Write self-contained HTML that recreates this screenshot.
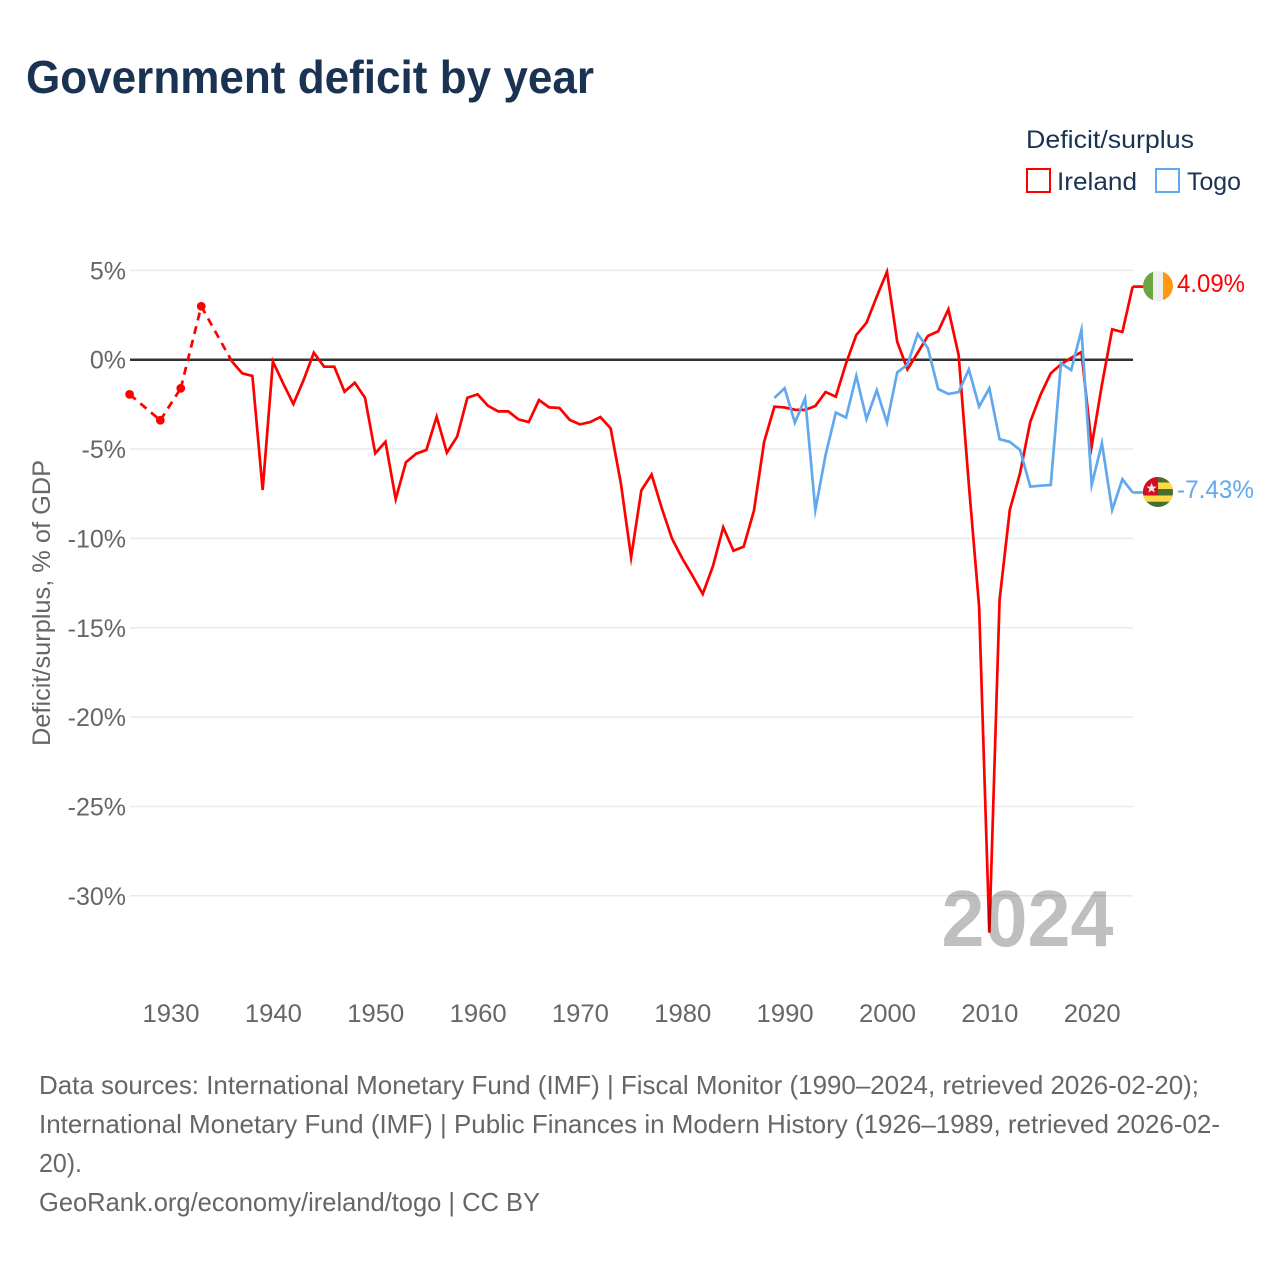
<!DOCTYPE html>
<html lang="en">
<head>
<meta charset="utf-8">
<title>Government deficit by year</title>
<style>
html,body{margin:0;padding:0;background:#fff;width:1280px;height:1280px;overflow:hidden}
svg{display:block}
text{font-family:"Liberation Sans",sans-serif}
</style>
</head>
<body>
<svg id="chart" xmlns="http://www.w3.org/2000/svg" width="1280" height="1280" viewBox="0 0 1280 1280">
  <rect width="1280" height="1280" fill="#fff"/>
  <text x="26" y="93" font-size="46" font-weight="700" fill="#1a3352" textLength="568" lengthAdjust="spacingAndGlyphs">Government deficit by year</text>

  <g>
    <text x="1026" y="148" font-size="25" fill="#1a3352" textLength="168" lengthAdjust="spacingAndGlyphs">Deficit/surplus</text>
    <rect x="1027" y="169" width="23" height="23" fill="none" stroke="#ff0000" stroke-width="2"/>
    <text x="1057" y="190" font-size="25" fill="#1a3352" textLength="80" lengthAdjust="spacingAndGlyphs">Ireland</text>
    <rect x="1156" y="169" width="23" height="23" fill="none" stroke="#62a8ed" stroke-width="2"/>
    <text x="1187" y="190" font-size="25" fill="#1a3352" textLength="54" lengthAdjust="spacingAndGlyphs">Togo</text>
  </g>

  <g id="grid"></g>
  <g id="yticks"></g>
  <g id="xticks"></g>
  <text transform="translate(50,603) rotate(-90)" text-anchor="middle" font-size="25" fill="#666" textLength="286" lengthAdjust="spacingAndGlyphs">Deficit/surplus, % of GDP</text>
  <g id="series"></g>

  <defs>
    <clipPath id="clip-ie"><circle id="clip-ie-c" cx="1158" cy="286" r="15"/></clipPath>
    <clipPath id="clip-tg"><circle id="clip-tg-c" cx="1158" cy="492" r="15"/></clipPath>
  </defs>
  <g id="flag-ie" clip-path="url(#clip-ie)">
    <rect x="1143" y="271" width="10.5" height="30" fill="#6da544"/>
    <rect x="1153" y="271" width="10" height="30" fill="#eeeeee"/>
    <rect x="1163" y="271" width="10" height="30" fill="#ff9811"/>
  </g>
  <g id="flag-tg" clip-path="url(#clip-tg)">
    <rect x="1143" y="477" width="30" height="30" fill="#496e2d"/>
    <rect x="1158" y="482.5" width="15" height="6.5" fill="#ffda44"/>
    <rect x="1143" y="495.5" width="30" height="6.2" fill="#ffda44"/>
    <rect x="1143" y="477" width="15" height="18.5" fill="#d20f24"/>
    <polygon points="1151.6,482.8 1152.9,486.5 1156.8,486.6 1153.7,488.9 1154.8,492.6 1151.6,490.4 1148.4,492.6 1149.5,488.9 1146.4,486.6 1150.3,486.5" fill="#eee"/>
  </g>
  <text id="label-ie" x="1177" y="292" font-size="25" fill="#ff0000" textLength="68" lengthAdjust="spacingAndGlyphs"></text>
  <text id="label-tg" x="1177" y="498" font-size="25" fill="#62a8ed" textLength="77" lengthAdjust="spacingAndGlyphs"></text>

  <text x="1113.5" y="946" text-anchor="end" font-size="80" font-weight="700" fill="#000" fill-opacity="0.25" textLength="172" lengthAdjust="spacingAndGlyphs">2024</text>

  <g font-size="26" fill="#666">
    <text x="39" y="1094" textLength="1160" lengthAdjust="spacingAndGlyphs">Data sources: International Monetary Fund (IMF) | Fiscal Monitor (1990–2024, retrieved 2026-02-20);</text>
    <text x="39" y="1133" textLength="1181" lengthAdjust="spacingAndGlyphs">International Monetary Fund (IMF) | Public Finances in Modern History (1926–1989, retrieved 2026-02-</text>
    <text x="39" y="1172" textLength="43" lengthAdjust="spacingAndGlyphs">20).</text>
    <text x="39" y="1211" textLength="501" lengthAdjust="spacingAndGlyphs">GeoRank.org/economy/ireland/togo | CC BY</text>
  </g>
</svg>
<script>
const yTickValues = [5, 0, -5, -10, -15, -20, -25, -30];
const yTickLabels = ["5%", "0%", "-5%", "-10%", "-15%", "-20%", "-25%", "-30%"];
const xTickYears = [1930, 1940, 1950, 1960, 1970, 1980, 1990, 2000, 2010, 2020];
const xTickLabels = ["1930", "1940", "1950", "1960", "1970", "1980", "1990", "2000", "2010", "2020"];

const irelandYears = [1926, 1929, 1931, 1933, 1936, 1937, 1938, 1939, 1940, 1941, 1942, 1943, 1944, 1945, 1946, 1947, 1948, 1949, 1950, 1951, 1952, 1953, 1954, 1955, 1956, 1957, 1958, 1959, 1960, 1961, 1962, 1963, 1964, 1965, 1966, 1967, 1968, 1969, 1970, 1971, 1972, 1973, 1974, 1975, 1976, 1977, 1978, 1979, 1980, 1981, 1982, 1983, 1984, 1985, 1986, 1987, 1988, 1989, 1990, 1991, 1992, 1993, 1994, 1995, 1996, 1997, 1998, 1999, 2000, 2001, 2002, 2003, 2004, 2005, 2006, 2007, 2008, 2009, 2010, 2011, 2012, 2013, 2014, 2015, 2016, 2017, 2018, 2019, 2020, 2021, 2022, 2023, 2024];
const irelandValues = [-1.94, -3.39, -1.6, 2.99, -0.1, -0.76, -0.91, -7.29, -0.11, -1.32, -2.48, -1.14, 0.39, -0.39, -0.39, -1.79, -1.29, -2.13, -5.24, -4.59, -7.8, -5.74, -5.26, -5.05, -3.19, -5.2, -4.31, -2.13, -1.94, -2.57, -2.89, -2.89, -3.34, -3.49, -2.26, -2.67, -2.7, -3.37, -3.62, -3.49, -3.21, -3.84, -6.92, -11.06, -7.31, -6.43, -8.32, -10.02, -11.12, -12.09, -13.11, -11.54, -9.38, -10.69, -10.46, -8.45, -4.59, -2.63, -2.67, -2.8, -2.81, -2.59, -1.81, -2.07, -0.2, 1.38, 2.07, 3.53, 4.92, 1.0, -0.54, 0.39, 1.33, 1.59, 2.82, 0.26, -7.0, -13.82, -32.06, -13.44, -8.4, -6.35, -3.47, -1.97, -0.76, -0.26, 0.11, 0.43, -4.83, -1.4, 1.7, 1.55, 4.09];

const togoYears = [1989, 1990, 1991, 1992, 1993, 1994, 1995, 1996, 1997, 1998, 1999, 2000, 2001, 2002, 2003, 2004, 2005, 2006, 2007, 2008, 2009, 2010, 2011, 2012, 2013, 2014, 2015, 2016, 2017, 2018, 2019, 2020, 2021, 2022, 2023, 2024];
const togoValues = [-2.14, -1.6, -3.52, -2.16, -8.41, -5.33, -2.96, -3.24, -0.91, -3.32, -1.71, -3.52, -0.71, -0.28, 1.44, 0.64, -1.64, -1.92, -1.81, -0.54, -2.63, -1.6, -4.45, -4.6, -5.05, -7.1, -7.05, -7.01, -0.2, -0.58, 1.66, -7.01, -4.68, -8.41, -6.69, -7.43];

const NS = "http://www.w3.org/2000/svg";
const plotLeft = 130, plotRight = 1133;
function xScale(year) { return 129.6 + (year - 1926) * 10.235; }
function yScale(v) { return 359.7 - v * 17.87; }
function make(tag, parent, attrs) {
  const el = document.createElementNS(NS, tag);
  for (const k in attrs) el.setAttribute(k, attrs[k]);
  parent.appendChild(el);
  return el;
}

const grid = document.getElementById("grid");
const yticks = document.getElementById("yticks");
const xticks = document.getElementById("xticks");
const seriesG = document.getElementById("series");

yTickValues.forEach(function (v, i) {
  const isZero = v === 0;
  const line = make("line", grid, { x1: plotLeft, x2: plotRight, y1: yScale(v), y2: yScale(v), stroke: isZero ? "#333" : "#eaeaea", "stroke-width": isZero ? 2.5 : 1.5 });
  
  
  const t = make("text", yticks, { x: 126, y: yScale(v) + 9, "text-anchor": "end", "font-size": 25, fill: "#666" });
  
  
  t.textContent = yTickLabels[i];
});

xTickYears.forEach(function (yr, i) {
  const t = make("text", xticks, { x: xScale(yr) + 0.5, y: 1022, "text-anchor": "middle", "font-size": 25, fill: "#666", textLength: 57, lengthAdjust: "spacingAndGlyphs" });
  
  
  t.textContent = xTickLabels[i];
});

function drawSeries(name, years, values, color) {
  const g = make("g", seriesG, {});
  
  
  let solid = "", dashed = "";
  for (let i = 0; i < years.length; i++) {
    const px = xScale(years[i]).toFixed(2), py = yScale(values[i]).toFixed(2);
    if (i === 0) { solid += "M" + px + " " + py; continue; }
    const qx = xScale(years[i - 1]).toFixed(2), qy = yScale(values[i - 1]).toFixed(2);
    if (years[i] - years[i - 1] === 1) {
      const startNew = i === 1 || years[i - 1] - years[i - 2] !== 1;
      solid += (startNew ? "M" + qx + " " + qy : "") + "L" + px + " " + py;
    } else {
      dashed += "M" + qx + " " + qy + "L" + px + " " + py;
    }
  }
  const lineSolid = make("path", g, { d: solid, fill: "none", stroke: color, "stroke-width": 2.7, "stroke-linejoin": "miter", "stroke-miterlimit": 10 });
  
  
  if (dashed) {
    const lineDash = make("path", g, { d: dashed, fill: "none", stroke: color, "stroke-width": 2.7, "stroke-dasharray": "8 6" });
    
    
  }
  for (let i = 0; i < years.length; i++) {
    const prevGap = i === 0 || years[i] - years[i - 1] !== 1;
    const nextGap = i === years.length - 1 || years[i + 1] - years[i] !== 1;
    if (prevGap && nextGap) {
      const dot = make("circle", g, { cx: xScale(years[i]), cy: yScale(values[i]), r: 4.4, fill: color });
      
      
    }
  }
  const last = values.length - 1;
  const lead = make("line", g, { x1: xScale(years[last]), x2: 1145, y1: yScale(values[last]), y2: yScale(values[last]), stroke: color, "stroke-width": 2.7 });
  
  
}
drawSeries("ireland", irelandYears, irelandValues, "#ff0000");
drawSeries("togo", togoYears, togoValues, "#62a8ed");

document.getElementById("label-ie").textContent = irelandValues[irelandValues.length - 1].toFixed(2) + "%";
document.getElementById("label-tg").textContent = togoValues[togoValues.length - 1].toFixed(2) + "%";
</script>
</body>
</html>
